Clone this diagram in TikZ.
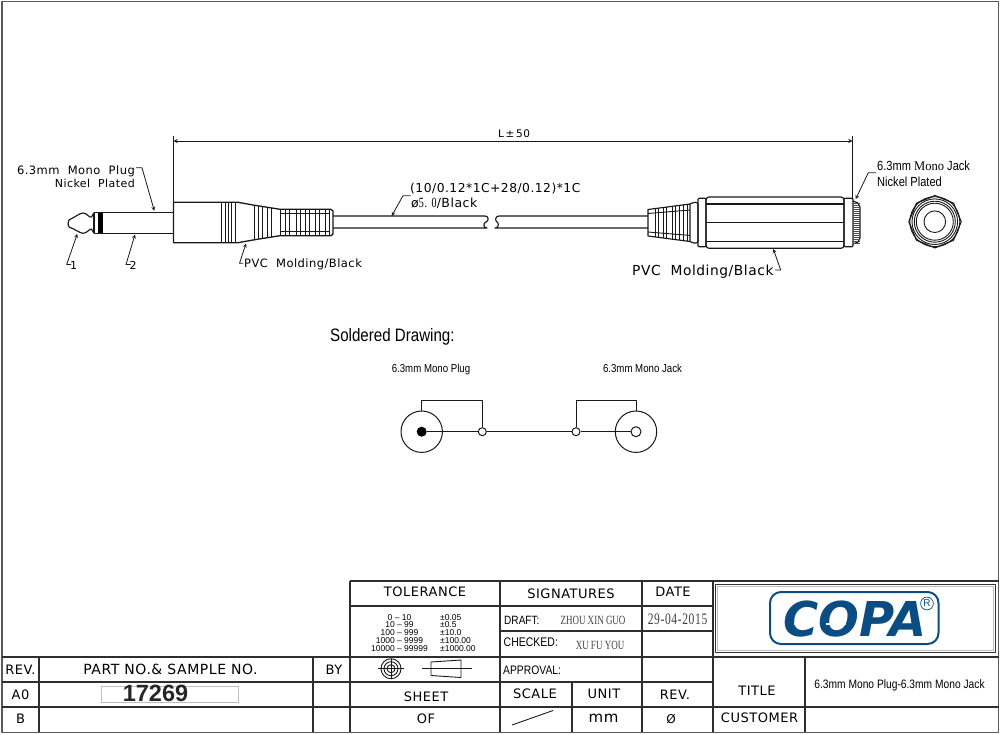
\documentclass[tikz,border=0pt]{standalone}
\usepackage{fontspec}
\usetikzlibrary{positioning,calc,arrows}
\setmainfont{Liberation Sans}
\newfontfamily\cadfont[LetterSpace=4]{DejaVu Sans}
\newfontfamily\narrowfont[FakeStretch=0.84]{Liberation Sans}
\newfontfamily\thinserif[FakeStretch=0.72]{Liberation Serif}
\newfontfamily\logofont[BoldItalicFont={DejaVu Sans Bold Oblique}]{DejaVu Sans}
\definecolor{copablue}{HTML}{0B4C83}
\definecolor{linegrey}{HTML}{2E2E2E}

\begin{document}
\begin{tikzpicture}[x=1pt, y=-1pt, line join=round, >=stealth,
	part/.style={draw=black!90, line width=1.15pt},
	rib/.style={draw=black!90, line width=0.9pt},
	grid/.style={draw=linegrey, line width=1.1pt},
	leader/.style={draw=black!90, line width=0.8pt, ->},
	wire/.style={draw=black!90, line width=1pt},
	cad/.style={font=\cadfont\fontsize{#1}{#1}\selectfont, text=black, inner sep=0pt},
	slim/.style={font=\narrowfont\fontsize{#1}{#1}\selectfont, text=black, inner sep=0pt},
	serifs/.style={font=\thinserif\fontsize{#1}{#1}\selectfont, text=black!75, inner sep=0pt}]
	\useasboundingbox (0,0) rectangle (1000,734);
	\draw[line width=1.6pt, draw=black!65] (2,1.5) rectangle (998.5,732.5);

	% title block
	\draw[grid] (350,581) -- (999,581);
	\draw[grid] (350,606) -- (713,606);
	\draw[grid] (500,631) -- (713,631);
	\draw[grid] (2,657) -- (999,657);
	\draw[grid] (2,682) -- (713,682);
	\draw[grid] (2,707) -- (999,707);
	\draw[grid] (39,657) -- (39,732);
	\draw[grid] (313,657) -- (313,732);
	\draw[grid] (350,581) -- (350,732);
	\draw[grid] (500,581) -- (500,732);
	\draw[grid] (642,581) -- (642,732);
	\draw[grid] (713,581) -- (713,732);
	\draw[grid] (572,682) -- (572,732);
	\draw[grid] (805,657) -- (805,732);
	\draw[draw=black!80, line width=1pt] (715.5,584) rectangle (995.5,652.5);
	\draw[draw=black!25, line width=0.8pt] (717.5,586) rectangle (993.5,650.5);
	\draw[draw=black!25, line width=0.7pt] (101,686) rectangle (238.5,702);

	\node[cad=13, anchor=base] (tolerance) at (425,596.5) {TOLERANCE};
	\node[cad=13, anchor=base] (signatures) at (571,598.5) {SIGNATURES};
	\node[cad=13, anchor=base] (date) at (673,596.5) {DATE};
	\foreach \lo/\yy/\hi in {0 -- 10/620.5/±0.05, 10 -- 99/627.5/±0.5, 100 -- 999/635/±10.0, 1000 -- 9999/643/±100.00, 10000 -- 99999/651/±1000.00}{
		\node[font=\fontsize{8.5}{8.5}\selectfont, text=black, inner sep=0pt, anchor=base] at (399.5,\yy) {\lo};
		\node[font=\fontsize{8.5}{8.5}\selectfont, text=black, inner sep=0pt, anchor=base west] at (440,\yy) {\hi};
	}
	\node[slim=12, anchor=base west] (draft) at (504,624.5) {DRAFT:};
	\node[serifs=12.5, anchor=base] (drafter) at (593,624.5) {ZHOU XIN GUO};
	\node[serifs=16, anchor=base] (stamp) at (677.5,624.8) {\addfontfeature{LetterSpace=4}29-04-2015};
	\node[slim=12.5, anchor=base west] (checked) at (503.5,646) {CHECKED:};
	\node[serifs=12.5, anchor=base] (checker) at (600,649.5) {XU FU YOU};
	\node[slim=12.3, anchor=base west] (approval) at (503,674) {APPROVAL:};

	\draw[rib] (378,668.7) -- (404,668.7) (391,659) -- (391,678.5);
	\foreach \r in {4,7,10}{ \draw[rib] (391,668.7) circle[radius=\r pt]; }
	\draw[rib] (421.5,668.7) -- (472,668.7);
	\draw[rib] (431,662) -- (461,660) -- (461,677.5) -- (431,675.5) -- cycle;

	\node[cad=13, anchor=base] (rev) at (20.5,674) {REV.};
	\node[cad=14, anchor=base] (partno) at (170.5,674) {PART NO.\& SAMPLE NO.};
	\node[cad=13, anchor=base] (by) at (334,674) {BY};
	\node[cad=13, anchor=base] (revzero) at (20.5,699) {A0};
	\node[cad=13, anchor=base] (revb) at (20.5,723) {B};
	\node[font=\bfseries\fontsize{23.5}{23.5}\selectfont, text=black!85, inner sep=0pt, anchor=base] (partnumber) at (155.5,701.5) {17269};
	\node[cad=13, anchor=base] (sheet) at (426,701.5) {SHEET};
	\node[cad=13, anchor=base] (of) at (426,723) {OF};
	\node[cad=13, anchor=base] (scale) at (535,698.5) {SCALE};
	\node[cad=13, anchor=base] (unit) at (604,698.5) {UNIT};
	\node[cad=13, anchor=base] (revlast) at (675,699.5) {REV.};
	\node[cad=15, anchor=base] (mm) at (603.5,722) {mm};
	\node[cad=12, anchor=base] (rest) at (671,723.5) {\char"00D8};
	\draw[rib] (512,725) -- (553,710.5);
	\node[cad=13, anchor=base] (titlelabel) at (757,695.5) {TITLE};
	\node[cad=13, anchor=base] (customer) at (759.5,722.5) {CUSTOMER};
	\node[slim=12.2, anchor=base] (title) at (899.5,688) {6.3mm Mono Plug-6.3mm Mono Jack};

	% logo
	\draw[draw=copablue, line width=2pt, rounded corners=11pt] (770,592) rectangle (938.5,644);
	\node[font=\logofont\bfseries\itshape\fontsize{48}{48}\selectfont, text=copablue, inner sep=0pt, anchor=base] (copa) at (855,636) {COPA};
	\draw[white, line width=1.6pt] (794,624) -- (812,624) (826,624) -- (846,624);
	\node[draw=copablue, text=copablue, circle, line width=0.7pt, inner sep=1pt, minimum size=12.5pt, font=\fontsize{10}{10}\selectfont] (mark) at (927,603.5) {R};

	% plug
	\draw[part] (94,212.7) -- (91.5,217) .. controls (89,218) and (87,213) .. (83,213) .. controls (80,213) and (75,217) .. (69,220) -- (68,224) -- (69,227)
		.. controls (75,229) and (80,233.3) .. (83,233.3) .. controls (87,233.3) and (89,229) .. (91.5,229) -- (94,233.3);
	\draw[part] (94,212.7) -- (173.5,212.7) (94,233.3) -- (173.5,233.3) (94,212.7) -- (94,233.3);
	\fill[black] (97.5,212.7) rectangle (103.3,233.3);
	\draw[part, line width=1.3pt] (173.5,202.3) -- (238,202.3) -- (253,205) -- (280,209.3) -- (331,209.3) -- (333,211) -- (333,234) -- (331,235.7) -- (280,235.7) -- (253,240) -- (238,242.7) -- (173.5,242.7) -- cycle;
	\foreach \x in {221.7,225,228.3,231.7,235}{ \draw[rib] (\x,202.3) -- (\x,242.7); }
	\foreach \x/\yt in {254/205.2,258.3/206,262.7/206.7,267/207.4,271/208}{ \draw[rib] (\x,\yt) -- (\x,445-\yt); }
	\draw[rib] (280,209.3) -- (280,235.7) (280,213.5) -- (329,213.5) (280,231.5) -- (329,231.5);
	\foreach \x in {285,289.3,296,300,305,309.3,315,319.3,325,329}{ \draw[rib] (\x,209.3) -- (\x,235.7); }

	% cable
	\draw[part] (333,216) -- (485,216) .. controls (489,216) and (489,221) .. (486,222) .. controls (483,223) and (483,228) .. (487,228) -- (333,228);
	\draw[part] (648,216) -- (499,216) .. controls (495,216) and (495,221) .. (497,222) .. controls (499,223) and (499,228) .. (495,228) -- (648,228);

	% jack
	\draw[part] (648,209.5) -- (690,204) -- (690,241.5) -- (648,236) -- cycle;
	\foreach \x/\yt in {655/208.6,658/208.2,663/207.5,666/207.1,672/206.3,675/205.9,679/205.4,683/204.9,687/204.4}{ \draw[rib] (\x,\yt) -- (\x,445.4-\yt); }
	\draw[rib] (648,213.5) -- (690,210) (648,232) -- (690,235.4);
	\draw[part, rounded corners=2pt] (690,204) -- (692,202.5) -- (698,202.5) -- (698,243) -- (692,243) -- (690,241.5);
	\draw[part, rounded corners=1pt] (698,198.3) rectangle (706,246.7);
	\draw[part, rounded corners=3pt] (706,197) rectangle (844,248.3);
	\foreach \yy in {204,222.7,241.3}{ \draw[part] (706,\yy) -- (844,\yy); }
	\draw[part, rounded corners=1pt] (844,198.3) rectangle (853,246.7);
	\draw[part] (853,201) -- (858,203) -- (860,207) -- (860,238) -- (858,242) -- (853,244);
	\foreach \yy in {203,205,...,243}{ \draw[draw=black!70, line width=0.7pt] (853,\yy) -- (859.5,\yy); }

	% front view of the jack
	\draw[part] (935,195.5) -- (953.5,203.2) -- (961.2,221.7) -- (953.5,240.2) -- (935,247.9) -- (916.5,240.2) -- (908.8,221.7) -- (916.5,203.2) -- cycle;
	\foreach \r in {10.8,18.5,20.5,22.8,25}{ \draw[rib] (934.8,221.7) circle[radius=\r pt]; }

	% length dimension
	\node[cad=10.5, anchor=base] (length) at (514,137.5) {L\,±\,50};
	\coordinate (plugface) at (173.5,136);
	\coordinate (jackface) at (852.5,136);
	\draw[rib] (plugface) -- (173.5,202.3);
	\draw[rib] (jackface) -- (852.5,198.3);
	\draw[rib, <->] (173.5,141) -- (852.5,141);

	% notes
	\node[cad=11.5, anchor=base east] (plugnote) at (135,174) {6.3mm\ \ Mono\ \ Plug};
	\node[cad=11, anchor=base east] (plugfinish) at (135,187.5) {Nickel\ \ Plated};
	\coordinate (plugtip) at (154.3,210.7);
	\draw[leader] (plugnote.east) ++(1,-3) -- ++(6,0) -- (plugtip);
	\node[cad=11, anchor=base] (tipno) at (73.5,269) {1};
	\coordinate (tipend) at (77.3,233.8);
	\draw[leader] (71,264.5) -- (66.7,264.5) -- (tipend);
	\node[cad=11, anchor=base] (sleeveno) at (133,269) {2};
	\coordinate (sleeveend) at (135,234.5);
	\draw[leader] (130.5,264.5) -- (126,264.5) -- (sleeveend);
	\node[cad=11.5, anchor=base west] (plugmold) at (244,267) {PVC\ \ Molding/Black};
	\coordinate (moldtip) at (246,243.5);
	\draw[leader] (plugmold.west) ++(-1,-0.5) -- ++(-3.5,0) -- (moldtip);
	\node[cad=12.3, anchor=base west] (cablespec) at (410,192.5) {(10/0.12*1C+28/0.12)*1C};
	\node[anchor=base west, inner sep=0pt, text=black] (cablejacket) at (411,207) {\cadfont\fontsize{12.5}{12.5}\selectfont\char"00F8{\thinserif\fontsize{14}{14}\selectfont\addfontfeature{LetterSpace=6}5. 0}/Black};
	\coordinate (cabletip) at (391.7,216);
	\draw[leader] (410.7,195.7) -- (403,195.7) -- (cabletip);
	\node[slim=13.2, anchor=base west] (jacknote) at (877,170) {6.3mm {\thinserif\addfontfeature{FakeStretch=0.95}Mono} Jack};
	\node[slim=13.2, anchor=base west] (jackfinish) at (877,186.7) {Nickel Plated};
	\coordinate (jacktip) at (855.7,199);
	\draw[leader] (876,172.7) -- (868.3,172.7) -- (jacktip);
	\node[cad=13.8, anchor=base west] (jackmold) at (632,275) {PVC\ \ Molding/Black};
	\coordinate (jackbody) at (773.3,249);
	\draw[leader] (775,270) -- (780.7,270) -- (jackbody);

	% soldered drawing
	\node[slim=18, anchor=base west] (solderhead) at (330,341.5) {Soldered Drawing:};
	\node[slim=11.5, anchor=base] (solderplug) at (431,372) {6.3mm Mono Plug};
	\node[slim=11.5, anchor=base] (solderjack) at (642.5,372) {6.3mm Mono Jack};
	\node[wire, circle, minimum size=41.4pt, inner sep=0pt] (plugview) at (421.7,431.7) {};
	\node[circle, fill=black, minimum size=10pt, inner sep=0pt] (plugpin) at (421.7,431.7) {};
	\node[wire, circle, minimum size=41.4pt, inner sep=0pt] (jackview) at (636,431.7) {};
	\node[wire, circle, minimum size=10pt, inner sep=0pt] (jackpin) at (636,431.7) {};
	\node[wire, circle, minimum size=8pt, inner sep=0pt] (plugjoint) at (482.3,431.7) {};
	\node[wire, circle, minimum size=8pt, inner sep=0pt] (jackjoint) at (576,431.7) {};
	\draw[wire] (plugpin) -- (plugjoint);
	\draw[wire] (plugjoint) -- (jackjoint);
	\draw[wire] (jackjoint) -- (jackpin);
	\draw[wire] (plugview.north) |- (482.3,400) -- (plugjoint.north);
	\draw[wire] (jackview.north) |- (576,400) -- (jackjoint.north);
\end{tikzpicture}
\end{document}
